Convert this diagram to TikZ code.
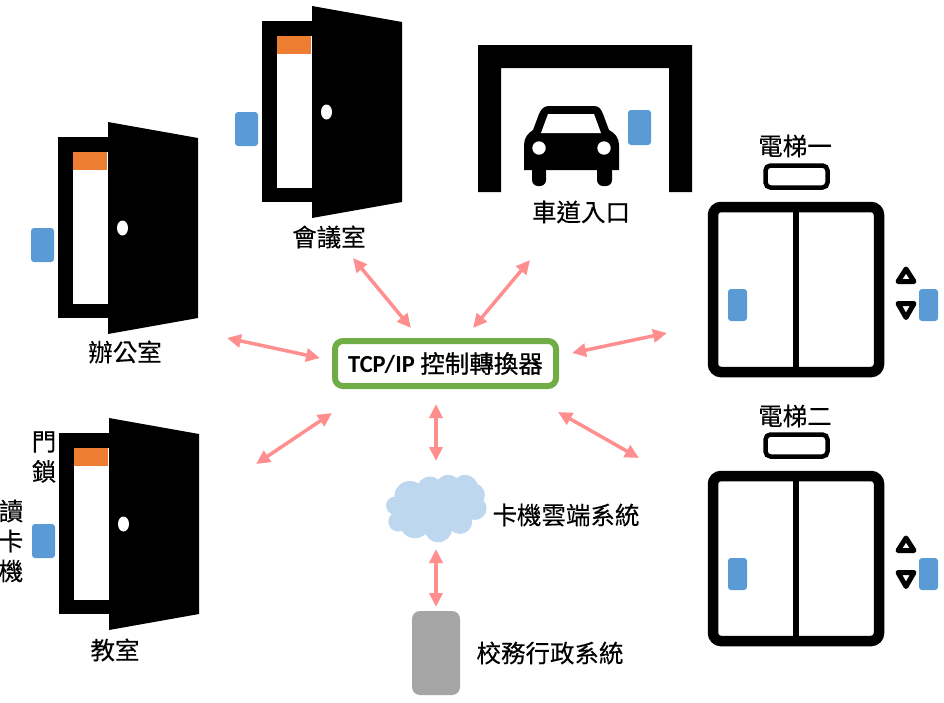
\documentclass[tikz,border=0pt]{standalone}
\usepackage{fontspec}
\setmainfont[FakeBold=0.2]{Noto Sans CJK TC}
\newfontfamily\boxfont[FakeBold=0.9]{Noto Sans CJK TC}
\newfontfamily\latinfont{Carlito}
\usetikzlibrary{arrows.meta}
\definecolor{readerblue}{HTML}{5B9BD5}
\definecolor{lockorange}{HTML}{ED7D31}
\definecolor{linkred}{HTML}{FF8F8F}
\definecolor{boxgreen}{HTML}{70AD47}
\definecolor{cloudblue}{HTML}{BDD7EE}
\definecolor{servergray}{HTML}{A5A5A5}
\tikzset{
  reader/.style={fill=readerblue, rounded corners=3pt},
  link/.style={line width=3.5pt, color=linkred, {Triangle[length=14pt,width=13pt]}-{Triangle[length=14pt,width=13pt]}},
  label/.style={font=\fontsize{24.5}{30}\selectfont, inner sep=0pt, align=center},
  door/.pic={
    \fill[black] (0,0) rectangle (50,181);
    \fill[white] (14.5,15) rectangle (50,167);
    \fill[lockorange] (15,15) rectangle (49,33);
    \fill[black] (50,-15) -- (140,1) -- (140,181) -- (50,197) -- cycle;
    \fill[white] (64.5,91) ellipse [x radius=5.5, y radius=7.5];
    \fill[reader] (-27,91) rectangle (-4,125);
  },
  lift/.pic={
    \draw[line width=10.5pt, rounded corners=8pt] (5,5) rectangle (171,170);
    \draw[line width=5.3pt] (88,5) -- (88,170);
    \draw[line width=4.5pt, rounded corners=5pt] (57.5,-36.5) rectangle (119.5,-14.5);
    \draw[line width=5pt, line join=round] (198,67) -- (190,79.5) -- (206,79.5) -- cycle;
    \draw[line width=5pt, line join=round] (190,101.5) -- (206,101.5) -- (198,115.5) -- cycle;
    \fill[reader] (20,87) rectangle (39,119);
    \fill[reader] (211,87) rectangle (230,119);
  }
}
\begin{document}
\begin{tikzpicture}[x=1pt, y=-1pt]
  \useasboundingbox (0,0) rectangle (944,702);

  % doors
  \pic at (58,137) {door};
  \pic at (262,21) {door};
  \pic at (59,433) {door};

  % garage and car
  \fill[black] (478,192) -- (478,45) -- (692,45) -- (692,192) -- (669,192) -- (669,68) -- (501,68) -- (501,192) -- cycle;
  \fill[black] (524,170) -- (524,145) .. controls (524,138) and (528,133) .. (533,130)
    -- (539,114) .. controls (541,109) and (544,106) .. (549,106) -- (594,106)
    .. controls (599,106) and (601,109) .. (603,114) -- (609,130)
    .. controls (615,133) and (619,138) .. (619,145) -- (619,170) -- cycle;
  \fill[black, rounded corners=6pt] (532,165) rectangle (546,186);
  \fill[black, rounded corners=6pt] (597,165) rectangle (612,186);
  \fill[white] (541,133) -- (548,114) -- (594,114) -- (601,133) -- cycle;
  \fill[white] (539,148) circle (6.7);
  \fill[white] (604,148) circle (6.7);
  \fill[reader] (628,110) rectangle (651,145);

  % lifts
  \pic at (708,202) {lift};
  \pic at (708,471) {lift};

  % cloud
  \begin{scope}[shift={(370,460)}, x=0.333pt, y=-0.333pt]
    \foreach \cx/\cy/\cr in {120/110/47, 180/90/40, 235/85/40, 285/85/40, 310/105/35, 315/145/35,
      75/137/27, 85/185/30, 135/190/45, 205/205/42, 270/185/37, 130/140/60, 200/140/70, 265/135/60}
      \fill[cloudblue] (\cx,\cy) circle (\cr*0.333pt);
  \end{scope}

  % back office box
  \fill[servergray, rounded corners=8pt] (412,611) rectangle (460,695);

  % labels
  \node[label] (office) at (125,352) {辦公室};
  \node[label] (meeting) at (329,237) {會議室};
  \node[label] (driveway) at (581,212) {車道入口};
  \node[label] (classroom) at (115,650) {教室};
  \node[label] (lock) at (44,457) {門\\鎖};
  \node[label] (cardreader) at (11,541) {讀\\卡\\機};
  \node[label] (liftone) at (795,146) {電梯一};
  \node[label] (lifttwo) at (795,416) {電梯二};
  \node[label] (cloudsys) at (566,515) {卡機雲端系統};
  \node[label] (schoolsys) at (550,653) {校務行政系統};
  \node[draw=boxgreen, line width=6pt, rounded corners=8pt, minimum width=221pt, minimum height=45pt, inner sep=0pt,
    font=\fontsize{24.5}{30}\selectfont\boxfont] (converter) at (445.5,363.5) {{\latinfont\bfseries TCP/IP} 控制轉換器};

  % arrow ends
  \coordinate (m1) at (353,258);
  \coordinate (m2) at (411,328);
  \coordinate (g1) at (530,260);
  \coordinate (g2) at (473,328);
  \coordinate (o1) at (227,338);
  \coordinate (o2) at (320,358);
  \coordinate (l1) at (572,353);
  \coordinate (l2) at (667,333);
  \coordinate (c1) at (332,413);
  \coordinate (c2) at (256,464);
  \coordinate (s1) at (436,404);
  \coordinate (s2) at (436,461);
  \coordinate (t1) at (558,412);
  \coordinate (t2) at (639,458);
  \coordinate (b1) at (436,549);
  \coordinate (b2) at (436,607);

  \draw[link] (m1) -- (m2);
  \draw[link] (g1) -- (g2);
  \draw[link] (o1) -- (o2);
  \draw[link] (l1) -- (l2);
  \draw[link] (c1) -- (c2);
  \draw[link] (s1) -- (s2);
  \draw[link] (t1) -- (t2);
  \draw[link] (b1) -- (b2);
\end{tikzpicture}
\end{document}
